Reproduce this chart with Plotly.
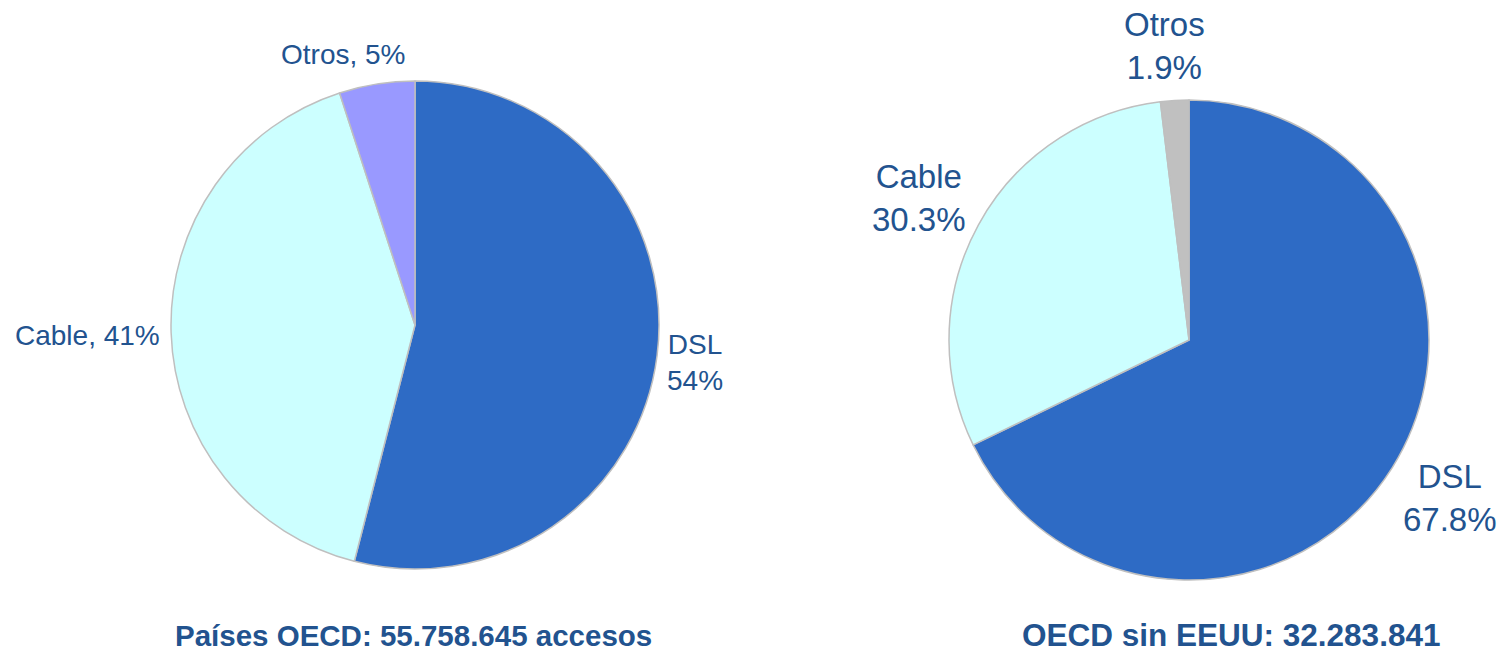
import plotly.graph_objects as go

W, H = 1504, 652

# Broadband access shares by technology
categories = ["DSL", "Cable", "Otros"]
oecd_values = [54, 41, 5]
oecd_no_us_values = [67.8, 30.3, 1.9]

titles = ["Países OECD: 55.758.645 accesos", "OECD sin EEUU: 32.283.841"]

oecd_colors = ["#2E6BC5", "#CCFFFF", "#9999FF"]
no_us_colors = ["#2E6BC5", "#CCFFFF", "#C0C0C0"]
text_color = "#22538F"
font_family = "Liberation Sans, Arial, sans-serif"


def px_to_paper(px, py):
    return px / W, (H - py) / H


def domain(cx, cy, r):
    return dict(x=[(cx - r) / W, (cx + r) / W],
                y=[(H - cy - r) / H, (H - cy + r) / H])


fig = go.Figure()

fig.add_trace(go.Pie(
    labels=categories, values=oecd_values, sort=False, direction="clockwise",
    rotation=0, textinfo="none", hoverinfo="label+percent",
    marker=dict(colors=oecd_colors, line=dict(color="#BFBFBF", width=1.5)),
    domain=domain(415, 325, 244), showlegend=False,
))
fig.add_trace(go.Pie(
    labels=categories, values=oecd_no_us_values, sort=False, direction="clockwise",
    rotation=0, textinfo="none", hoverinfo="label+percent",
    marker=dict(colors=no_us_colors, line=dict(color="#BFBFBF", width=1.5)),
    domain=domain(1189, 340, 240), showlegend=False,
))

annotations = []

# Slice labels, left chart
left_pos = [(695, 362), (87, 335), (343, 55)]
left_sep = ["<br>", ", ", ", "]
for cat, val, (px, py), sep in zip(categories, oecd_values, left_pos, left_sep):
    x, y = px_to_paper(px, py)
    annotations.append(dict(
        x=x, y=y, xref="paper", yref="paper", showarrow=False,
        text=f"{cat}{sep}{val:g}%", align="center",
        xanchor="center", yanchor="middle",
        font=dict(family=font_family, size=28, color=text_color),
    ))

# Slice labels, right chart
right_pos = [(1450, 498), (919, 198), (1164, 46)]
for cat, val, (px, py) in zip(categories, oecd_no_us_values, right_pos):
    x, y = px_to_paper(px, py)
    annotations.append(dict(
        x=x, y=y, xref="paper", yref="paper", showarrow=False,
        text=f"{cat}<br>{val:.1f}%", align="center",
        xanchor="center", yanchor="middle",
        font=dict(family=font_family, size=33, color=text_color),
    ))

# Chart captions
caption_sizes = [29.5, 31.5]
for text, size, (px, py) in zip(titles, caption_sizes, [(414, 635), (1231, 635)]):
    x, y = px_to_paper(px, py)
    annotations.append(dict(
        x=x, y=y, xref="paper", yref="paper", showarrow=False,
        text=f"<b>{text}</b>", xanchor="center", yanchor="middle",
        font=dict(family=font_family, size=size, color=text_color),
    ))

fig.update_layout(
    width=W, height=H, autosize=False,
    margin=dict(l=0, r=0, t=0, b=0),
    paper_bgcolor="white", plot_bgcolor="white",
    annotations=annotations,
)

fig.write_html("out.html")
